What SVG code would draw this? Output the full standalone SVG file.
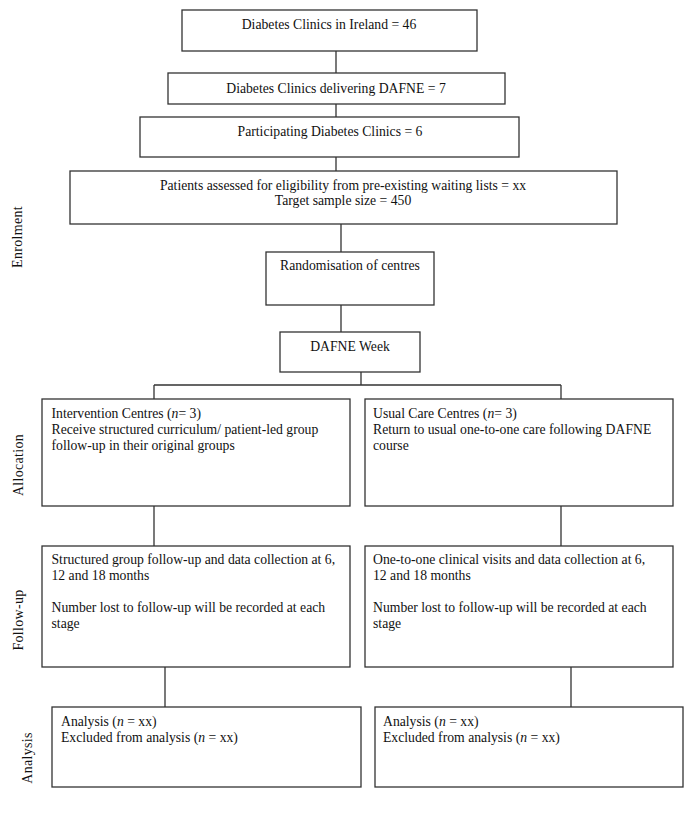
<svg xmlns="http://www.w3.org/2000/svg" width="685" height="814" viewBox="0 0 685 814">
<style>
.box{fill:#fff;stroke:#333;stroke-width:1.3}
.c{fill:none;stroke:#333;stroke-width:1.3}
text{font-family:"Liberation Serif","Times New Roman",serif;font-size:13.7px;fill:#111}
.m{text-anchor:middle}
.lab{text-anchor:middle;letter-spacing:0.3px;font-size:14px}
</style>
<rect width="685" height="814" fill="#fff"/>
<g id="connectors">
<path class="c" d="M336 51V73M336 104V117M336 157V171M341 224V252M341 305V332M361 372V385M154 385H561M154 385V399M561 385V399M154 506V546M561 506V546M165 667V707M571 667V707"/>
</g>
<g id="lbl-enrolment"><text class="lab" transform="translate(22,237) rotate(-90)">Enrolment</text></g>
<g id="lbl-allocation"><text class="lab" transform="translate(23,465) rotate(-90)">Allocation</text></g>
<g id="lbl-followup"><text class="lab" transform="translate(23,620) rotate(-90)">Follow-up</text></g>
<g id="lbl-analysis"><text class="lab" transform="translate(32,758) rotate(-90)">Analysis</text></g>
<g id="n1"><rect class="box" x="182" y="10" width="295" height="41"/><text class="m" x="329" y="29">Diabetes Clinics in Ireland = 46</text></g>
<g id="n2"><rect class="box" x="168" y="73" width="337" height="31"/><text class="m" x="336" y="93">Diabetes Clinics delivering DAFNE = 7</text></g>
<g id="n3"><rect class="box" x="140" y="117" width="379" height="40"/><text class="m" x="330" y="136">Participating Diabetes Clinics = 6</text></g>
<g id="n4"><rect class="box" x="70" y="171" width="547" height="53"/><text class="m" x="343" y="190">Patients assessed for eligibility from pre-existing waiting lists = xx</text><text class="m" x="343" y="205">Target sample size = 450</text></g>
<g id="n5"><rect class="box" x="266" y="252" width="168" height="53"/><text class="m" x="350" y="270">Randomisation of centres</text></g>
<g id="n6"><rect class="box" x="280" y="332" width="140" height="40"/><text class="m" x="350" y="351">DAFNE Week</text></g>
<g id="n7"><rect class="box" x="42" y="399" width="308" height="107"/>
<text x="51.5" y="418">Intervention Centres (<tspan font-style="italic">n</tspan>= 3)</text>
<text x="51.5" y="434">Receive structured curriculum/ patient-led group</text>
<text x="51.5" y="450">follow-up in their original groups</text></g>
<g id="n8"><rect class="box" x="365" y="399" width="308" height="107"/>
<text x="373" y="418">Usual Care Centres (<tspan font-style="italic">n</tspan>= 3)</text>
<text x="373" y="434">Return to usual one-to-one care following DAFNE</text>
<text x="373" y="450">course</text></g>
<g id="n9"><rect class="box" x="42" y="546" width="308" height="121"/>
<text x="51.5" y="564">Structured group follow-up and data collection at 6,</text>
<text x="51.5" y="580">12 and 18 months</text>
<text x="51.5" y="612">Number lost to follow-up will be recorded at each</text>
<text x="51.5" y="628">stage</text></g>
<g id="n10"><rect class="box" x="365" y="546" width="308" height="121"/>
<text x="373" y="564">One-to-one clinical visits and data collection at 6,</text>
<text x="373" y="580">12 and 18 months</text>
<text x="373" y="612">Number lost to follow-up will be recorded at each</text>
<text x="373" y="628">stage</text></g>
<g id="n11"><rect class="box" x="52" y="707" width="309" height="80"/>
<text x="61" y="726">Analysis (<tspan font-style="italic">n</tspan> = xx)</text>
<text x="61" y="742">Excluded from analysis (<tspan font-style="italic">n</tspan> = xx)</text></g>
<g id="n12"><rect class="box" x="375" y="707" width="308" height="80"/>
<text x="383" y="726">Analysis (<tspan font-style="italic">n</tspan> = xx)</text>
<text x="383" y="742">Excluded from analysis (<tspan font-style="italic">n</tspan> = xx)</text></g>
</svg>
